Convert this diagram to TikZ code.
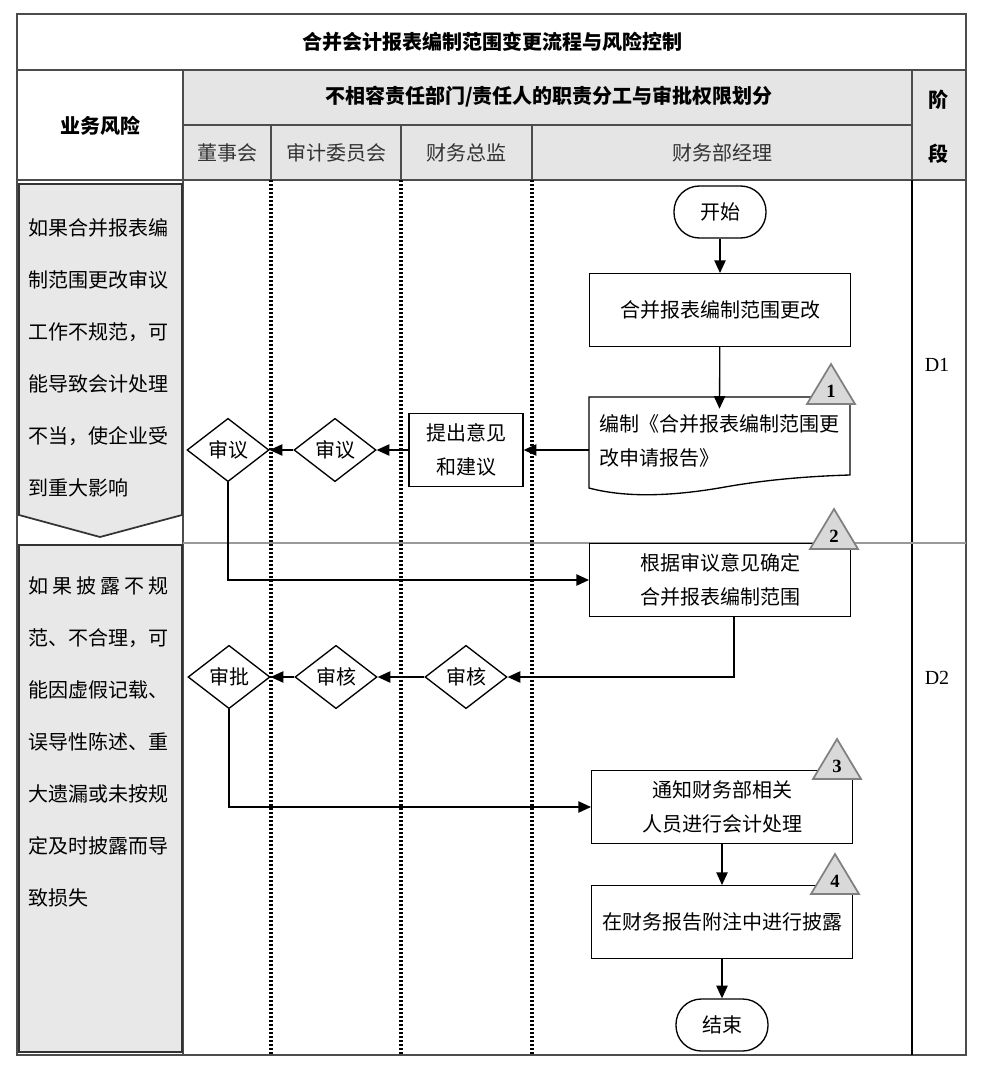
\documentclass[tikz,border=0pt]{standalone}
\usepackage{fontspec}
\setmainfont{Liberation Serif}
\newfontfamily\cjk{Noto Sans CJK SC}
\usetikzlibrary{shapes.geometric,arrows.meta}

\begin{document}
\begin{tikzpicture}[x=0.75pt,y=0.75pt,yscale=-1,xscale=1,
  font=\cjk\fontsize{15}{18}\selectfont,
  tabline/.style={draw=black!70,line width=1.3pt},
  headcell/.style={tabline,fill=black!10},
  headtext/.style={font=\cjk\bfseries\fontsize{15}{18}\selectfont},
  lanedot/.style={line width=2.4pt,dash pattern=on 1.8pt off 1.2pt},
  risktext/.style={align=left,inner sep=0pt,font=\cjk\fontsize{15}{39}\selectfont},
  procbox/.style={draw,line width=1pt,minimum width=195.5pt,minimum height=54.5pt,inner sep=0pt,align=center,font=\cjk\fontsize{15}{25.5}\selectfont},
  decide/.style={draw,line width=1pt,shape=diamond,inner sep=0pt,minimum width=61.5pt,minimum height=47.5pt},
  terminal/.style={draw,line width=1pt,rounded corners=19pt,minimum width=69pt,minimum height=39pt},
  flowarrow/.style={line width=1pt,-{Triangle[length=9.5pt,width=8.5pt]}},
  marktri/.style={fill=black!15,draw=black!50,line width=1.3pt,line join=miter}
]
\useasboundingbox (0,0) rectangle (987,1085);

% Table frame
\draw [tabline] (17,14) rectangle (966,70);
\node [headtext] (title) at (492,42) {合并会计报表编制范围变更流程与风险控制};
\draw [tabline] (17,70) rectangle (183,180);
\node [headtext] (riskhead) at (100,126) {业务风险};
\draw [headcell] (183,70) rectangle (912,125);
\node [headtext] (dutyhead) at (549,97) {不相容责任部门/责任人的职责分工与审批权限划分};
\draw [headcell] (912,70) rectangle (966,180);
\node [headtext] (stage1) at (938,100) {阶};
\node [headtext] (stage2) at (938,154) {段};
\foreach \a/\b/\t [count=\i] in {183/271/董事会,271/401/审计委员会,401/532/财务总监,532/912/财务部经理}
{
  \draw [headcell] (\a,125) rectangle (\b,180);
  \node [text=black!80] (lane\i) at ({(\a+\b)/2},153) {\t};
}
\draw [tabline] (17,180) rectangle (966,1055);
\draw [tabline] (183,180) -- (183,1055);
\draw [line width=0.8pt] (912,180) -- (912,1055);
\draw [draw=black!40,line width=1.2pt] (183,543) -- (966,543);
\foreach \x in {271,401,532}
  \draw [lanedot] (\x,180) -- (\x,1055);

% Risk column
\draw [tabline,draw=black!80,fill=black!9] (19,184) -- (182,184) -- (182,515) -- (100,537) -- (19,515) -- cycle;
\node [risktext,anchor=west] (risk1) at (28,358) {如果合并报表编\\制范围更改审议\\工作不规范，可\\能导致会计处理\\不当，使企业受\\到重大影响};
\draw [tabline,draw=black!80,fill=black!9] (19,545) rectangle (182,1052);
\node [risktext,anchor=west] (risk2) at (28,742) {\makebox[105pt][s]{如\hfill 果\hfill 披\hfill 露\hfill 不\hfill 规}\\范、不合理，可\\能因虚假记载、\\误导性陈述、重\\大遗漏或未按规\\定及时披露而导\\致损失};

% Phase labels
\node [font=\rmfamily\fontsize{15}{18}\selectfont] (d1) at (937,365) {D1};
\node [font=\rmfamily\fontsize{15}{18}\selectfont] (d2) at (937,678) {D2};

% Flow nodes
\node [terminal] (start) at (720,212) {开始};
\node [procbox] (hb) at (720,310) {合并报表编制范围更改};
\node [inner sep=0pt,minimum width=195.5pt,minimum height=48pt,text width=180pt,align=left,font=\cjk\fontsize{15}{26}\selectfont] (doc) at (719.5,441) {编制《合并报表编制范围更\\改申请报告》};
\node [procbox,minimum width=85.5pt] (ty) at (466,450) {提出意见\\和建议};
\node [decide] (sy2) at (335,450) {审议};
\node [decide] (sy1) at (228,450) {审议};
\node [procbox] (gj) at (720,580) {根据审议意见确定\\合并报表编制范围};
\node [decide] (sh1) at (466,677) {审核};
\node [decide] (sh2) at (336,677) {审核};
\node [decide] (sp) at (229,677) {审批};
\node [procbox] (tz) at (722,807) {通知财务部相关\\人员进行会计处理};
\node [procbox] (pl) at (722,922) {在财务报告附注中进行披露};
\node [terminal] (end) at (722,1025) {结束};

% Document outline
\draw [line width=1pt] (589,397) -- (850,397) -- (850,475) .. controls (815,476) and (770,479) .. (725,487) .. controls (680,495) and (630,499) .. (589,488) -- cycle;

% Connectors
\draw [flowarrow] (start) -- (hb);
\draw [flowarrow] (hb) -- (doc.north);
\draw [flowarrow] (doc.west |- ty.east) -- (ty.east);
\draw [flowarrow] (ty) -- (sy2);
\draw [flowarrow] (sy2) -- (sy1);
\draw [flowarrow] (sy1.south) |- (gj.west);
\draw [flowarrow] ([xshift=10.5pt]gj.south) |- (sh1.east);
\draw [flowarrow] (sh1) -- (sh2);
\draw [flowarrow] (sh2) -- (sp);
\draw [flowarrow] (sp.south) |- (tz.west);
\draw [flowarrow] (tz) -- (pl);
\draw [flowarrow] (pl) -- (end);

% Control points
\foreach \n/\x/\y in {1/831/404,2/834/549,3/837/779,4/835/894}
{
  \draw [marktri] (\x-24,\y) -- (\x,\y-40) -- (\x+24,\y) -- cycle;
  \node [font=\rmfamily\bfseries\fontsize{14}{14}\selectfont] (tri\n) at (\x,\y-13) {\n};
}

\end{tikzpicture}
\end{document}
